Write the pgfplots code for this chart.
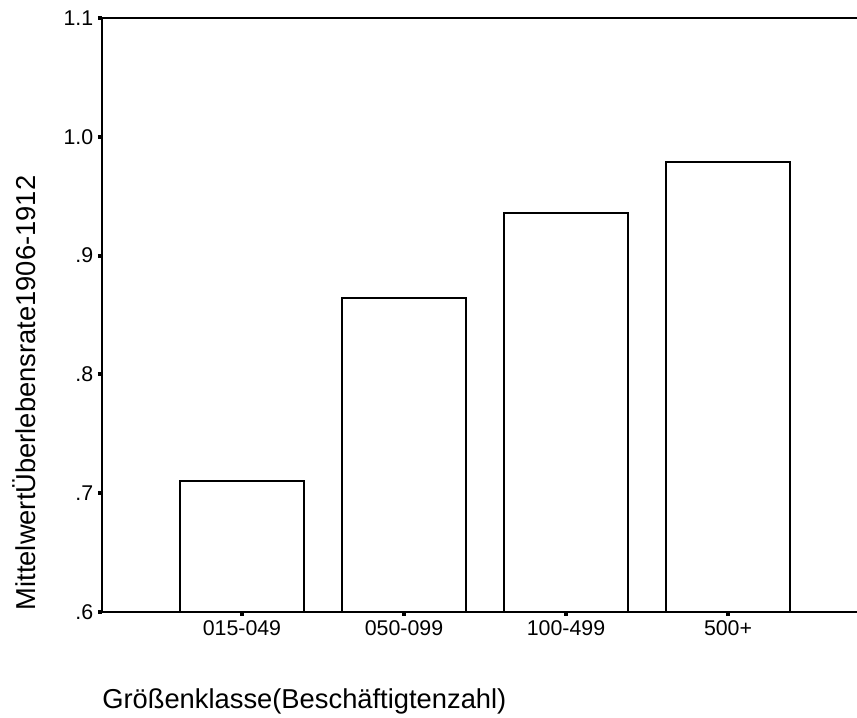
\documentclass[border=0pt]{standalone}
\usepackage{pgfplots}
\pgfplotsset{compat=1.18}
\usepackage{fontspec}
\setmainfont{Liberation Sans}
\begin{document}
\begin{tikzpicture}
\begin{axis}[
  name=ax,
  scale only axis,
  width=566.25pt, height=445.5pt,
  xmin=-0.864, xmax=3.796,
  ymin=0.6, ymax=1.1,
  axis lines*=left,
  axis line style={line width=1.5pt, -},
  xtick={0,1,2,3},
  xticklabels={015-049,050-099,100-499,500+},
  ytick={0.6,0.7,0.8,0.9,1.0,1.1},
  yticklabels={.6,.7,.8,.9,1.0,1.1},
  tick align=outside,
  major tick length=3pt,
  tick style={line width=3pt, black},
  ticklabel style={font=\fontsize{16}{19}\selectfont},
  /pgf/number format/assume math mode=true,
  xlabel={Größenklasse(Beschäftigtenzahl)},
  xlabel style={at={(rel axis cs:0,-0.1633)}, anchor=base west, inner sep=0pt, font=\fontsize{20.5}{24}\selectfont},
  ylabel={MittelwertÜberlebensrate1906-1912},
  ylabel style={at={(rel axis cs:-0.1026,0.3687)}, anchor=center, inner sep=0pt, font=\fontsize{20.5}{24}\selectfont},
  clip=false,
  ybar, bar width=0.765,
]
\addplot[draw=black, fill=white, line width=1.3pt, bar shift=0pt] coordinates {
  (0,0.710) (1,0.864) (2,0.936) (3,0.979)
};
\draw[line width=1.3pt] (rel axis cs:0,1) -- (rel axis cs:1,1);
\end{axis}
\pgfresetboundingbox
\path[use as bounding box] ([xshift=-76.5pt,yshift=-79.5pt]ax.south west) rectangle ([yshift=13.5pt]ax.north east);
\end{tikzpicture}
\end{document}
